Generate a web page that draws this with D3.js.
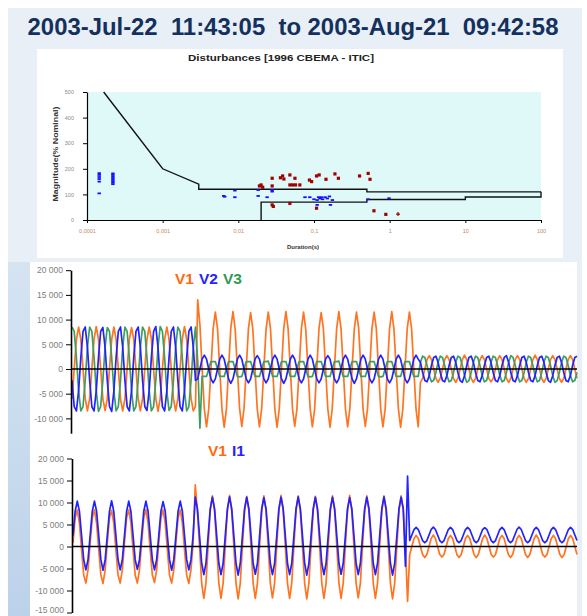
<!DOCTYPE html>
<html><head><meta charset="utf-8">
<script src="https://cdn.jsdelivr.net/npm/d3@7"></script>
<style>html,body{margin:0;padding:0;background:#fff;}svg{display:block;font-family:"Liberation Sans",Arial,sans-serif;}</style>
</head><body><svg id="c" width="587" height="616"></svg>
<script>
// ---------------- DATA ----------------
const titleText = "2003-Jul-22  11:43:05  to 2003-Aug-21  09:42:58";
const cbemaTitle = "Disturbances [1996 CBEMA - ITIC]";
// ITIC envelope (duration s, magnitude %)
const iticUpperDur = [0.000166, 0.001, 0.003, 0.003, 0.5, 0.5, 100];
const iticUpperMag = [500, 200, 140, 120, 120, 110, 110];
const iticLowerDur = [0.02, 0.02, 0.5, 0.5, 10, 10, 100, 100];
const iticLowerMag = [0, 70, 70, 80, 80, 90, 90, 110];
// events
const redDur = [0.019,0.020,0.021,0.028,0.028,0.036,0.0385,0.040,0.048,0.048,0.052,0.056,0.057,0.065,0.087,0.093,0.108,0.117,0.144,0.189,0.21,0.40,0.52,0.55,0.028,0.029,0.048,0.108,0.62,0.89];
const redMag = [133,137,128,163,133,165,172,160,176,137,137,163,137,137,156,150,172,176,159,180,163,172,182,159,59,53,65,46,36,22];
const crossDur = [1.29];
const crossMag = [23];
const blueDur = [1.45e-4,1.45e-4,1.45e-4,1.45e-4,1.45e-4,1.45e-4,2.2e-4,2.2e-4,2.2e-4,2.2e-4,2.2e-4,2.2e-4,2.2e-4,2.2e-4,0.0064,0.0066,0.009,0.009,0.0183,0.0183,0.024,0.028,0.028,0.076,0.088,0.1,0.11,0.115,0.12,0.125,0.13,0.14,0.15,0.16,0.175,0.11,0.165,0.52,0.98];
const blueMag = [183,176,168,160,150,104,182,176,170,164,158,152,146,140,94,91,115,89,117,94,89,111,117,89,89,81,78,89,84,89,81,89,84,92,78,59,59,81,85];
const durTicks = [0.0001,0.001,0.01,0.1,1,10,100];
const durTickLabels = ["0,0001","0,001","0,01","0,1","1","10","100"];
const magTicks = [0,100,200,300,400,500];

// waveforms (values in thousands, 8 samples per cycle)
const V1_top = [
 -6.0,0,6.0,8.5,6.0,0,-6.0,-8.5,
 -6.0,0,6.1,8.6,6.0,0,-6.0,-8.4,
 -6.0,0,6.0,8.5,6.0,0,-6.1,-8.5,
 -6.0,0,6.0,8.4,6.0,0,-6.0,-8.5,
 -6.0,0,6.0,8.5,6.1,0,-6.0,-8.6,
 -6.0,0,6.0,8.5,6.0,0,-6.0,-8.5,
 -6.1,0,6.0,8.6,6.0,0,-6.0,-8.5,
 -7.5,
 14.0,9.0,0,-8.1,-11.7,-8.1,0,
 8.1,11.5,8.1,0,-8.1,-11.8,-8.2,0,
 8.2,11.6,8.0,0,-8.0,-11.6,-8.1,0,
 8.1,11.4,8.1,0,-8.1,-11.7,-8.1,0,
 8.0,11.5,8.2,0,-8.2,-11.8,-8.0,0,
 8.1,11.6,8.1,0,-8.1,-11.6,-8.1,0,
 8.1,11.5,8.0,0,-8.0,-11.7,-8.2,0,
 8.2,11.4,8.1,0,-8.1,-11.8,-8.1,0,
 8.1,11.6,8.1,0,-8.1,-11.7,-8.0,0,
 8.0,11.5,8.2,0,-8.2,-11.6,-8.1,0,
 8.1,11.5,8.1,0,-8.1,-11.7,-8.1,0,
 8.1,11.6,8.0,0,-8.0,-11.8,-8.2,0,
 8.1,11.5,8.1,0,-8.1,-11.7,
 -2.7,-1.9,
 0,1.9,2.7,1.9,0,-1.9,-2.7,-1.9,
 0,1.9,2.7,1.9,0,-1.9,-2.7,-1.9,
 0,1.9,2.8,1.9,0,-1.9,-2.7,-1.9,
 0,1.9,2.7,1.9,0,-1.9,-2.6,-1.9,
 0,1.9,2.7,1.9,0,-1.9,-2.7,-1.9,
 0,1.9,2.7,1.9,0,-1.9,-2.7,-1.9,
 0,1.9,2.8,1.9,0,-1.9,-2.7,-1.9,
 0,1.9,2.7,1.9,0,-1.9,-2.7,-1.9,
 0,1.9,2.7,1.9,0,-1.9
];
const V2_top = [
 -2.3,-7.6,-8.5,-4.4,2.3,7.6,8.5,4.4,
 -2.3,-7.6,-8.5,-4.4,2.3,7.6,8.4,4.4,
 -2.3,-7.6,-8.6,-4.4,2.3,7.6,8.5,4.4,
 -2.3,-7.6,-8.5,-4.4,2.3,7.6,8.5,4.4,
 -2.3,-7.6,-8.4,-4.4,2.3,7.6,8.6,4.4,
 -2.3,-7.6,-8.5,-4.4,2.3,7.6,8.5,4.4,
 -2.3,-7.6,-8.5,-4.4,2.3,7.6,8.5,4.4,
 -2.3,
 -2.0,0,2.0,2.8,2.0,0,-2.0,
 -2.8,-2.0,0,2.0,2.8,2.0,0,-2.0,
 -2.9,-2.0,0,2.0,2.8,2.0,0,-2.0,
 -2.8,-2.0,0,2.0,2.7,2.0,0,-2.0,
 -2.8,-2.0,0,2.0,2.8,2.0,0,-2.0,
 -2.9,-2.0,0,2.0,2.8,2.0,0,-2.0,
 -2.8,-2.0,0,2.0,2.8,2.0,0,-2.0,
 -2.8,-2.0,0,2.0,2.7,2.0,0,-2.0,
 -2.8,-2.0,0,2.0,2.8,2.0,0,-2.0,
 -2.9,-2.0,0,2.0,2.8,2.0,0,-2.0,
 -2.8,-2.0,0,2.0,2.8,2.0,0,-2.0,
 -2.8,-2.0,0,2.0,2.8,2.0,0,-2.0,
 -2.8,-2.0,0,2.0,2.8,2.0,
 1.35,-0.7,
 -2.34,-2.6,-1.35,0.7,2.34,2.6,1.35,-0.7,
 -2.34,-2.6,-1.35,0.7,2.34,2.6,1.35,-0.7,
 -2.34,-2.7,-1.35,0.7,2.34,2.6,1.35,-0.7,
 -2.34,-2.6,-1.35,0.7,2.34,2.6,1.35,-0.7,
 -2.34,-2.6,-1.35,0.7,2.34,2.7,1.35,-0.7,
 -2.34,-2.6,-1.35,0.7,2.34,2.6,1.35,-0.7,
 -2.34,-2.6,-1.35,0.7,2.34,2.6,1.35,-0.7,
 -2.34,-2.7,-1.35,0.7,2.34,2.6,1.35,-0.7,
 -2.34,-2.6,-1.35,0.7,2.34,2.6
];
const V3_top = [
 8.5,7.6,2.3,-4.4,-8.5,-7.6,-2.3,4.4,
 8.5,7.6,2.3,-4.4,-8.6,-7.6,-2.3,4.4,
 8.4,7.6,2.3,-4.4,-8.5,-7.6,-2.3,4.4,
 8.5,7.6,2.3,-4.4,-8.5,-7.6,-2.3,4.4,
 8.5,7.6,2.3,-4.4,-8.5,-7.6,-2.3,4.4,
 8.6,7.6,2.3,-4.4,-8.4,-7.6,-2.3,4.4,
 8.5,7.6,2.3,-4.4,-8.5,-7.6,-2.3,4.4,
 8.5,
 1.5,-12.0,-1.5,-1.5,-1.5,0,1.5,
 1.5,1.5,0,-1.5,-1.5,-1.5,0,1.5,
 1.5,1.5,0,-1.5,-1.6,-1.5,0,1.5,
 1.5,1.5,0,-1.5,-1.5,-1.5,0,1.5,
 1.5,1.6,0,-1.5,-1.5,-1.5,0,1.5,
 1.5,1.5,0,-1.5,-1.5,-1.5,0,1.5,
 1.5,1.5,0,-1.5,-1.6,-1.5,0,1.5,
 1.5,1.5,0,-1.5,-1.5,-1.5,0,1.5,
 1.5,1.6,0,-1.5,-1.5,-1.5,0,1.5,
 1.5,1.5,0,-1.5,-1.5,-1.5,0,1.5,
 1.5,1.5,0,-1.5,-1.6,-1.5,0,1.5,
 1.5,1.5,0,-1.5,-1.5,-1.5,0,1.5,
 1.5,1.5,0,-1.5,-1.5,-1.5,
 1.35,2.6,
 2.34,0.7,-1.35,-2.6,-2.34,-0.7,1.35,2.6,
 2.34,0.7,-1.35,-2.6,-2.34,-0.7,1.35,2.6,
 2.34,0.7,-1.35,-2.7,-2.34,-0.7,1.35,2.6,
 2.34,0.7,-1.35,-2.6,-2.34,-0.7,1.35,2.6,
 2.34,0.7,-1.35,-2.6,-2.34,-0.7,1.35,2.7,
 2.34,0.7,-1.35,-2.6,-2.34,-0.7,1.35,2.6,
 2.34,0.7,-1.35,-2.6,-2.34,-0.7,1.35,2.6,
 2.34,0.7,-1.35,-2.7,-2.34,-0.7,1.35,2.6,
 2.34,0.7,-1.35,-2.6,-2.34,-0.7
];
const V1_bot = [
 0.8,6.5,8.3,5.3,-0.8,-6.5,-8.3,-5.3,
 0.8,6.5,8.3,5.3,-0.8,-6.5,-8.4,-5.3,
 0.8,6.5,8.2,5.3,-0.8,-6.5,-8.3,-5.3,
 0.8,6.5,8.3,5.3,-0.8,-6.5,-8.3,-5.3,
 0.8,6.5,8.4,5.3,-0.8,-6.5,-8.2,-5.3,
 0.8,6.5,8.3,5.3,-0.8,-6.5,-8.3,-5.3,
 0.8,6.5,8.3,5.3,-0.8,-6.5,-8.4,-5.3,
 0.8,
 14.0,8.1,0,-8.3,-11.8,-8.3,0,
 8.1,11.5,8.1,0,-8.3,-11.8,-8.3,0,
 8.1,11.6,8.1,0,-8.3,-11.9,-8.3,0,
 8.1,11.4,8.1,0,-8.3,-11.8,-8.3,0,
 8.1,11.5,8.1,0,-8.3,-11.7,-8.3,0,
 8.1,11.6,8.1,0,-8.3,-11.8,-8.3,0,
 8.1,11.5,8.1,0,-8.3,-11.9,-8.3,0,
 8.1,11.4,8.1,0,-8.3,-11.8,-8.3,0,
 8.1,11.5,8.1,0,-8.3,-11.8,-8.3,0,
 8.1,11.6,8.1,0,-8.3,-11.7,-8.3,0,
 8.1,11.5,8.1,0,-8.3,-11.8,-8.3,0,
 8.1,11.5,8.1,0,-8.3,-11.9,-8.3,0,
 8.1,11.5,8.1,0,-12.5,
 -1.8,0,1.8,
 2.5,1.8,0,-1.8,-2.5,-1.8,0,1.8,
 2.6,1.8,0,-1.8,-2.4,-1.8,0,1.8,
 2.5,1.8,0,-1.8,-2.5,-1.8,0,1.8,
 2.5,1.8,0,-1.8,-2.5,-1.8,0,1.8,
 2.6,1.8,0,-1.8,-2.4,-1.8,0,1.8,
 2.5,1.8,0,-1.8,-2.5,-1.8,0,1.8,
 2.5,1.8,0,-1.8,-2.5,-1.8,0,1.8,
 2.6,1.8,0,-1.8,-2.4,-1.8,0,1.8,
 2.5,1.8,0,-1.8,-2.5,-1.8,0,1.8,
 2.5,1.8,0,-1.8
];
const I1_bot = [
 2.5,8.0,10.3,8.0,2.5,-3.0,-5.3,-3.0,
 2.5,8.0,10.3,8.0,2.5,-3.0,-5.4,-3.0,
 2.5,8.0,10.4,8.0,2.5,-3.0,-5.3,-3.0,
 2.5,8.0,10.3,8.0,2.5,-3.0,-5.2,-3.0,
 2.5,8.0,10.3,8.0,2.5,-3.0,-5.3,-3.0,
 2.5,8.0,10.2,8.0,2.5,-3.0,-5.4,-3.0,
 2.5,8.0,10.3,8.0,2.5,-3.0,-5.3,-3.0,
 2.5,
 11.2,8.6,2.4,-3.8,-6.4,-3.8,2.4,
 8.6,11.2,8.6,2.4,-3.8,-6.4,-3.8,2.4,
 8.6,11.3,8.6,2.4,-3.8,-6.5,-3.8,2.4,
 8.6,11.2,8.6,2.4,-3.8,-6.3,-3.8,2.4,
 8.6,11.1,8.6,2.4,-3.8,-6.4,-3.8,2.4,
 8.6,11.2,8.6,2.4,-3.8,-6.4,-3.8,2.4,
 8.6,11.3,8.6,2.4,-3.8,-6.5,-3.8,2.4,
 8.6,11.2,8.6,2.4,-3.8,-6.4,-3.8,2.4,
 8.6,11.2,8.6,2.4,-3.8,-6.3,-3.8,2.4,
 8.6,11.1,8.6,2.4,-3.8,-6.4,-3.8,2.4,
 8.6,11.2,8.6,2.4,-3.8,-6.4,-3.8,2.4,
 8.6,11.3,8.6,2.4,-3.8,-6.5,-3.8,2.4,
 8.6,11.2,8.6,-4.5,16.0,
 1.35,2.6,3.85,
 4.35,3.85,2.6,1.35,0.85,1.35,2.6,3.85,
 4.4,3.85,2.6,1.35,0.85,1.35,2.6,3.85,
 4.35,3.85,2.6,1.35,0.9,1.35,2.6,3.85,
 4.35,3.85,2.6,1.35,0.85,1.35,2.6,3.85,
 4.3,3.85,2.6,1.35,0.85,1.35,2.6,3.85,
 4.35,3.85,2.6,1.35,0.85,1.35,2.6,3.85,
 4.4,3.85,2.6,1.35,0.9,1.35,2.6,3.85,
 4.35,3.85,2.6,1.35,0.85,1.35,2.6,3.85,
 4.35,3.85,2.6,1.35,0.85,1.35,2.6,3.85,
 4.35,3.85,2.6,1.35
];
const UNIT = 1000;
const topTicks = [-10000,-5000,0,5000,10000,15000,20000];
const botTicks = [-15000,-10000,-5000,0,5000,10000,15000,20000];
const topLegend = [{t:"V1",c:"#ff6a10"},{t:"V2",c:"#2424ff"},{t:"V3",c:"#2f9a55"}];
const botLegend = [{t:"V1",c:"#ff6a10"},{t:"I1",c:"#2424ff"}];

// ---------------- DRAW ----------------
const svg = d3.select("#c");
const defs = svg.append("defs");
const lg = defs.append("linearGradient").attr("id","lg").attr("x1",0).attr("y1",0).attr("x2",0).attr("y2",1);
lg.append("stop").attr("offset","0%").attr("stop-color","#d6e4f2");
lg.append("stop").attr("offset","100%").attr("stop-color","#bcd2e9");

svg.append("rect").attr("width",587).attr("height",616).attr("fill","#ffffff");
svg.append("rect").attr("x",8).attr("y",8).attr("width",574).attr("height",608).attr("fill","#e8eff7");
svg.append("rect").attr("x",8).attr("y",262).attr("width",22).attr("height",354).attr("fill","url(#lg)");

// title
const tt = svg.append("text").attr("x",293).attr("y",35).attr("text-anchor","middle")
  .attr("font-weight","bold").attr("font-size",22).attr("fill","#13315c")
  .style("white-space","pre").attr("xml:space","preserve").text(titleText);
const tw = tt.node().getComputedTextLength();
tt.attr("font-size", 22*531/tw);

// CBEMA panel
svg.append("rect").attr("x",37).attr("y",49).attr("width",526).attr("height",209).attr("fill","#ffffff");
const cx = d3.scaleLog().domain([1e-4,100]).range([87,541]);
const cy = d3.scaleLinear().domain([0,500]).range([220,92]);
svg.append("rect").attr("x",cx(1e-4)).attr("y",cy(500)).attr("width",cx(100)-cx(1e-4))
  .attr("height",cy(0)-cy(500)).attr("fill","#dff9f9");
svg.append("text").attr("x",281).attr("y",61).attr("text-anchor","middle").attr("font-weight","bold")
  .attr("font-size",9.5).attr("fill","#222").attr("textLength",186).attr("lengthAdjust","spacingAndGlyphs").text(cbemaTitle);

const ax1 = svg.append("g").attr("transform",`translate(${cx(1e-4)},0)`)
  .call(d3.axisLeft(cy).tickValues(magTicks).tickSize(4).tickSizeOuter(0).tickPadding(9));
ax1.selectAll("text").attr("font-size",5.5).attr("fill","#8a8a8a").attr("font-family","Liberation Sans, Arial");
const ax2 = svg.append("g").attr("transform",`translate(0,${cy(0)})`)
  .call(d3.axisBottom(cx).tickValues(durTicks).tickFormat((d,i)=>durTickLabels[i]).tickSize(3).tickSizeOuter(0).tickPadding(6));
ax2.selectAll("text").attr("font-size",5.5).attr("fill","#c0895c").attr("font-family","Liberation Sans, Arial");
[ax1,ax2].forEach(a=>{a.select(".domain").attr("stroke","#000").attr("stroke-width",1.2);a.selectAll(".tick line").attr("stroke","#000");});

svg.append("text").attr("transform","translate(58,154) rotate(-90)").attr("text-anchor","middle")
  .attr("font-weight","bold").attr("font-size",7.5).attr("fill","#333").attr("textLength",95).attr("lengthAdjust","spacingAndGlyphs").text("Magnitude(% Nominal)");
svg.append("text").attr("x",303).attr("y",249).attr("text-anchor","middle")
  .attr("font-weight","bold").attr("font-size",6).attr("fill","#333").text("Duration(s)");

const cline = d3.line().x(d=>cx(d[0])).y(d=>cy(d[1]));
svg.append("path").attr("d",cline(d3.zip(iticUpperDur,iticUpperMag))).attr("fill","none").attr("stroke","#111").attr("stroke-width",1.4);
svg.append("path").attr("d",cline(d3.zip(iticLowerDur,iticLowerMag))).attr("fill","none").attr("stroke","#111").attr("stroke-width",1.4);

svg.append("g").selectAll("rect").data(d3.zip(blueDur,blueMag)).join("rect")
  .attr("x",d=>cx(d[0])-1.7).attr("y",d=>cy(d[1])-0.9).attr("width",3.4).attr("height",1.8).attr("fill","#1010ff");
svg.append("g").selectAll("rect").data(d3.zip(redDur,redMag)).join("rect")
  .attr("x",d=>cx(d[0])-1.6).attr("y",d=>cy(d[1])-1.6).attr("width",3.2).attr("height",3.2).attr("fill","#a00000");
svg.append("g").selectAll("path").data(d3.zip(crossDur,crossMag)).join("path")
  .attr("d",d=>`M${cx(d[0])-2},${cy(d[1])}h4M${cx(d[0])},${cy(d[1])-2}v4`).attr("stroke","#a00000").attr("stroke-width",1.2);

// waveform panel
svg.append("rect").attr("x",30).attr("y",262).attr("width",547).attr("height",354).attr("fill","#ffffff");
const loc = d3.formatLocale({decimal:",",thousands:" ",grouping:[3],currency:["",""],minus:"-"});
const fmt = loc.format(",");

function panel(series, colors, ticks, domain, range, axisX, legend, legendX, legendY){
  const n = d3.max(series, s=>s.length);
  const x = d3.scaleLinear().domain([0,n-1]).range([axisX+1,577]);
  const y = d3.scaleLinear().domain(domain).range(range);
  const ln = d3.line().x((d,i)=>x(i)).y(d=>y(d*UNIT)).curve(d3.curveLinear);
  series.forEach((s,k)=>{
    svg.append("path").attr("d",ln(s)).attr("fill","none").attr("stroke",colors[k]).attr("stroke-width",1.7).attr("stroke-linejoin","round");
  });
  svg.append("line").attr("x1",axisX).attr("x2",577).attr("y1",y(0)).attr("y2",y(0)).attr("stroke","#000").attr("stroke-width",1.6);
  const ax = svg.append("g").attr("transform",`translate(${axisX},0)`)
    .call(d3.axisLeft(y).tickValues(ticks).tickFormat(fmt).tickSize(5).tickSizeOuter(0).tickPadding(3));
  ax.select(".domain").attr("stroke","#000").attr("stroke-width",1.6);
  ax.selectAll(".tick line").attr("stroke","#000");
  ax.selectAll("text").attr("font-size",8.5).attr("fill","#808080").attr("font-family","Liberation Sans, Arial");
  // keep the lowest label inside the picture
  ax.selectAll(".tick").filter(d=>y(d)>606).select("text").attr("y",-2.5);
  let lx = legendX;
  legend.forEach(l=>{
    const t = svg.append("text").attr("x",lx).attr("y",legendY).attr("font-weight","bold").attr("font-size",15.5).attr("fill",l.c).text(l.t);
    lx += t.node().getComputedTextLength()+5;
  });
}
panel([V1_top, V3_top, V2_top], ["#ff7420","#3d9e63","#2222ff"], topTicks, [-13000,20000], [433.2,270.2], 71, topLegend, 175, 283.5);
panel([V1_bot, I1_bot], ["#ff7420","#2222ff"], botTicks, [-15000,20000], [612.5,458.5], 72, botLegend, 208, 456);
</script></body></html>
